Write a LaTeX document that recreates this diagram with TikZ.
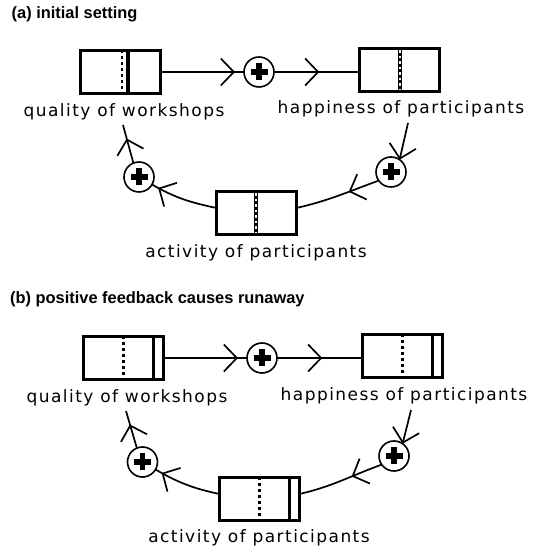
\documentclass[tikz,border=0pt]{standalone}
\usepackage{fontspec}
\setmainfont{Liberation Sans}
\newfontfamily\lblfont[LetterSpace=8.5]{DejaVu Sans}
\usetikzlibrary{arrows.meta,decorations.markings,calc}

\tikzset{
  barb/.tip={Straight Barb[length=13pt, width=27pt, line width=1.7pt]},
  lvlbox/.style={draw, line width=3.6pt, minimum width=80pt, minimum height=43pt, inner sep=0pt, outer sep=0pt},
  plusnode/.style={circle, draw, line width=1.6pt, minimum size=30pt, inner sep=0pt, outer sep=0pt,
    path picture={
      \fill ([xshift=-8.5pt,yshift=-2.8pt]path picture bounding box.center) rectangle ([xshift=8.5pt,yshift=2.8pt]path picture bounding box.center);
      \fill ([xshift=-2.8pt,yshift=-8.5pt]path picture bounding box.center) rectangle ([xshift=2.8pt,yshift=8.5pt]path picture bounding box.center);
    }},
  lbl/.style={font=\lblfont\fontsize{17}{20}\selectfont, anchor=base, inner sep=0pt},
  ttl/.style={font=\bfseries\fontsize{16.4}{19}\selectfont, anchor=base west, inner sep=0pt},
  conn/.style={line width=1.7pt},
  midarrow/.style={postaction={decorate}, decoration={markings, mark=at position #1 with {\arrow{barb}}}},
  dotdivline/.style={line width=2.7pt, dash pattern=on 2.7pt off 3.3pt},
  soldivline/.style={line width=3.2pt},
}
\newcommand\dotdiv[2]{\draw[dotdivline] ([xshift=#2]#1.north) -- ([xshift=#2]#1.south);}
\newcommand\soldiv[2]{\draw[soldivline] ([xshift=#2]#1.north) -- ([xshift=#2]#1.south);}
\newcommand\ladder[2]{\draw[line width=4.8pt] ([xshift=#2]#1.north) -- ([xshift=#2]#1.south);
  \draw[white, line width=1.8pt, dash pattern=on 2.5pt off 3pt] ([xshift=#2,yshift=-2pt]#1.north) -- ([xshift=#2,yshift=2pt]#1.south);}

\begin{document}
\begin{tikzpicture}[x=1pt, y=1pt]
\useasboundingbox (0,0) rectangle (543,549);

% ---------- panel (a)
\node[ttl] (ta) at (11.5,530.5) {(a) initial setting};
\node[lvlbox] (Qa) at (120.5,477) {};
\node[lbl] (qla) at (124,432) {quality of workshops};
\node[lvlbox] (Ha) at (399.5,479) {};
\node[lbl] (hla) at (401,435) {happiness of participants};
\node[lvlbox] (Aa) at (256.5,336) {};
\node[lbl] (ala) at (256,291) {activity of participants};
\node[plusnode] (C1a) at (259,477) {};
\node[plusnode] (C2a) at (391,377) {};
\node[plusnode] (C3a) at (139,372) {};

\dotdiv{Qa}{1.5pt}
\soldiv{Qa}{7.5pt}
\ladder{Ha}{0.5pt}
\ladder{Aa}{-0.5pt}

\coordinate (hsa) at ($(hla.base)+(7,-9)$);
\coordinate (qea) at ($(qla.base)+(-1,-8)$);
\draw[conn, midarrow=-9pt] (Qa.east) -- (C1a.west);
\draw[conn, midarrow=0.53] (C1a.east) -- (C1a.east -| Ha.west);
\draw[conn, -barb] (hsa) -- (C2a.55);
\draw[conn, midarrow=0.37] (C2a.215) to[out=200, in=13] ([yshift=5pt]Aa.east);
\draw[conn, midarrow=-7pt] ([yshift=5pt]Aa.west) to[out=168, in=-30] (C3a);
\draw[conn, midarrow=-14pt] (C3a.112) -- (qea);

% ---------- panel (b)
\node[ttl] (tb) at (10,245) {(b) positive feedback causes runaway};
\node[lvlbox] (Qb) at (123.5,191) {};
\node[lbl] (qlb) at (127,146) {quality of workshops};
\node[lvlbox] (Hb) at (402.5,193) {};
\node[lbl] (hlb) at (404,148) {happiness of participants};
\node[lvlbox] (Ab) at (259.5,50) {};
\node[lbl] (alb) at (259,6) {activity of participants};
\node[plusnode] (C1b) at (262,191) {};
\node[plusnode] (C2b) at (394,93) {};
\node[plusnode] (C3b) at (142.5,87) {};

\dotdiv{Qb}{0pt}
\soldiv{Qb}{30pt}
\dotdiv{Hb}{0pt}
\soldiv{Hb}{30pt}
\dotdiv{Ab}{0pt}
\soldiv{Ab}{30pt}

\coordinate (hsb) at ($(hlb.base)+(7,-9)$);
\coordinate (qeb) at ($(qlb.base)+(-1,-8)$);
\draw[conn, midarrow=-9pt] (Qb.east) -- (C1b.west);
\draw[conn, midarrow=0.53] (C1b.east) -- (C1b.east -| Hb.west);
\draw[conn, -barb] (hsb) -- (C2b.55);
\draw[conn, midarrow=0.37] (C2b.215) to[out=200, in=13] ([yshift=5pt]Ab.east);
\draw[conn, midarrow=-7pt] ([yshift=5pt]Ab.west) to[out=168, in=-30] (C3b);
\draw[conn, midarrow=-14pt] (C3b.112) -- (qeb);
\end{tikzpicture}
\end{document}
